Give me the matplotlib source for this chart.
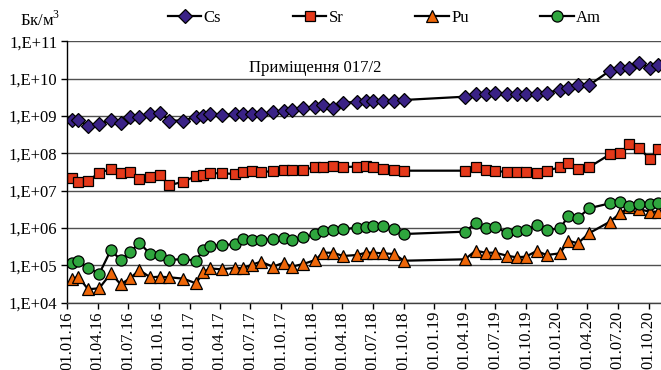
import matplotlib
matplotlib.use('Agg')
import matplotlib.pyplot as plt
import matplotlib.dates as mdates
import matplotlib.ticker as ticker
import pandas as pd
import numpy as np

plt.rcParams['font.family'] = ['Liberation Serif', 'DejaVu Serif']
plt.rcParams['mathtext.fontset'] = 'custom'
plt.rcParams['mathtext.rm'] = 'Liberation Serif'

# дати відбору проб
dates = ['2016-01-15', '2016-02-03', '2016-03-04', '2016-04-06', '2016-05-11', '2016-06-09',
         '2016-07-07', '2016-08-04', '2016-09-05', '2016-10-04', '2016-11-01', '2016-12-13',
         '2017-01-20', '2017-02-10', '2017-03-02', '2017-04-06', '2017-05-16', '2017-06-08',
         '2017-07-06', '2017-08-02', '2017-09-06', '2017-10-09', '2017-11-01', '2017-12-06',
         '2018-01-11', '2018-02-02', '2018-03-04', '2018-04-04', '2018-05-14', '2018-06-11',
         '2018-07-03', '2018-08-02', '2018-09-03', '2018-10-02', '2019-04-02', '2019-05-04',
         '2019-06-03', '2019-07-01', '2019-08-06', '2019-09-03', '2019-10-01', '2019-11-02',
         '2019-12-02', '2020-01-11', '2020-02-05', '2020-03-04', '2020-04-06', '2020-06-08',
         '2020-07-08', '2020-08-05', '2020-09-03', '2020-10-05', '2020-10-30']

cs = [7.8e8, 7.8e8, 5.4e8, 6.1e8, 7.8e8, 6.6e8, 9.5e8, 9.5e8, 1.13e9, 1.22e9, 7.5e8, 7.5e8,
      9.5e8, 1.0e9, 1.13e9, 1.04e9, 1.13e9, 1.1e9, 1.13e9, 1.13e9, 1.25e9, 1.36e9, 1.47e9, 1.63e9,
      1.77e9, 1.97e9, 1.6e9, 2.27e9, 2.36e9, 2.56e9, 2.47e9, 2.47e9, 2.56e9, 2.67e9, 3.27e9, 3.8e9,
      3.87e9, 4.04e9, 3.87e9, 3.87e9, 3.87e9, 3.8e9, 4.19e9, 4.95e9, 5.6e9, 6.87e9, 6.6e9, 1.63e10,
      1.92e10, 1.89e10, 2.67e10, 1.89e10, 2.31e10]

sr = [2.14e7, 1.74e7, 1.81e7, 3.03e7, 3.73e7, 2.92e7, 3.1e7, 2.05e7, 2.28e7, 2.58e7, 1.39e7, 1.74e7,
      2.47e7, 2.58e7, 2.92e7, 2.92e7, 2.79e7, 3.16e7, 3.42e7, 3.16e7, 3.3e7, 3.57e7, 3.5e7, 3.57e7,
      4.3e7, 4.3e7, 4.57e7, 4.3e7, 4.38e7, 4.57e7, 4.22e7, 3.87e7, 3.57e7, 3.42e7, 3.42e7, 4.22e7,
      3.57e7, 3.42e7, 3.1e7, 3.1e7, 3.1e7, 2.92e7, 3.42e7, 4.22e7, 5.6e7, 3.87e7, 4.22e7, 9.4e7,
      1.0e8, 1.74e8, 1.41e8, 6.9e7, 1.33e8]

pu = [4.24e4, 4.97e4, 2.29e4, 2.43e4, 6.1e4, 3.11e4, 4.5e4, 7.5e4, 4.79e4, 4.97e4, 4.79e4, 4.4e4,
      3.3e4, 6.5e4, 8.3e4, 7.8e4, 8.6e4, 8.3e4, 1.05e5, 1.25e5, 9.2e4, 1.18e5, 9.2e4, 1.09e5,
      1.39e5, 2.18e5, 2.18e5, 1.78e5, 1.89e5, 2.18e5, 2.18e5, 2.1e5, 2.01e5, 1.33e5, 1.45e5, 2.47e5,
      2.18e5, 2.18e5, 1.81e5, 1.64e5, 1.71e5, 2.42e5, 1.89e5, 2.1e5, 4.57e5, 3.89e5, 7.2e5, 1.48e6,
      2.48e6, 3.65e6, 3.17e6, 2.73e6, 2.73e6]

am = [1.14e5, 1.33e5, 8.7e4, 5.9e4, 2.58e5, 1.39e5, 2.23e5, 4.04e5, 2.01e5, 1.89e5, 1.39e5, 1.48e5,
      1.33e5, 2.58e5, 3.3e5, 3.5e5, 3.66e5, 4.98e5, 4.77e5, 4.77e5, 4.98e5, 5.5e5, 4.69e5, 5.6e5,
      6.8e5, 8.3e5, 8.7e5, 9.2e5, 1.02e6, 1.08e6, 1.15e6, 1.13e6, 9.4e5, 6.9e5, 7.96e5, 1.34e6,
      1.02e6, 1.04e6, 7.5e5, 8.3e5, 8.8e5, 1.2e6, 8.8e5, 9.8e5, 2.1e6, 1.82e6, 3.37e6, 4.58e6,
      5.06e6, 3.88e6, 4.4e6, 4.3e6, 4.58e6]

x = pd.to_datetime(dates)

fig = plt.figure(figsize=(6.61, 3.70), dpi=100)
ax = fig.add_axes([67 / 661, 1 - 302.7 / 370, 1 - 67 / 661, (302.7 - 41.2) / 370])

ax.plot(x, cs, color='black', lw=1.6, marker='D', ms=7.2, mfc='#3a2286', mec='black', mew=0.9, label='Cs')
ax.plot(x, sr, color='black', lw=1.6, marker='s', ms=6.8, mfc='#e5391a', mec='black', mew=0.9, label='Sr')
ax.plot(x, pu, color='black', lw=1.6, marker='^', ms=8, mfc='#ee6608', mec='black', mew=0.9, label='Pu')
ax.plot(x, am, color='black', lw=1.6, marker='o', ms=8, mfc='#2fa63e', mec='black', mew=0.9, label='Am')

ax.set_yscale('log')
ax.set_ylim(1e4, 1e11)
ax.yaxis.set_major_locator(ticker.LogLocator(base=10, numticks=10))
ax.yaxis.set_minor_locator(ticker.NullLocator())
ax.yaxis.set_major_formatter(ticker.FuncFormatter(lambda v, p: '1,E+%02d' % round(np.log10(v))))

ax.set_xlim(pd.Timestamp('2016-01-01'), pd.Timestamp('2020-11-07'))
ax.xaxis.set_major_locator(mdates.MonthLocator(bymonth=[1, 4, 7, 10]))
ax.xaxis.set_major_formatter(mdates.DateFormatter('%d.%m.%y'))
for lbl in ax.get_xticklabels():
    lbl.set_rotation(90)

ax.tick_params(axis='both', direction='out', length=4, width=1, labelsize=12, colors='black')
ax.tick_params(axis='x', pad=2)
ax.tick_params(axis='y', pad=3)

ax.grid(axis='y', color='#505050', lw=1)
ax.set_axisbelow(True)
for s in ['top', 'right']:
    ax.spines[s].set_visible(False)
ax.spines['left'].set_linewidth(1)
ax.spines['bottom'].set_linewidth(1)
ax.spines['bottom'].set_color('#404040')

ax.text(0.4175, 0.8975, 'Приміщення 017/2', transform=ax.transAxes, ha='center', va='center', fontsize=12)
fig.text(20 / 661, 1 - 20 / 370, 'Бк/м$^3$', fontsize=12, ha='left', va='center')

fig.legend(loc='center left', bbox_to_anchor=(168 / 661, 1 - 18 / 370), ncol=4, frameon=False,
           fontsize=12, handlelength=2.0, handletextpad=0.15, columnspacing=4.3,
           borderpad=0, borderaxespad=0)

plt.savefig('out.png', dpi=100)
